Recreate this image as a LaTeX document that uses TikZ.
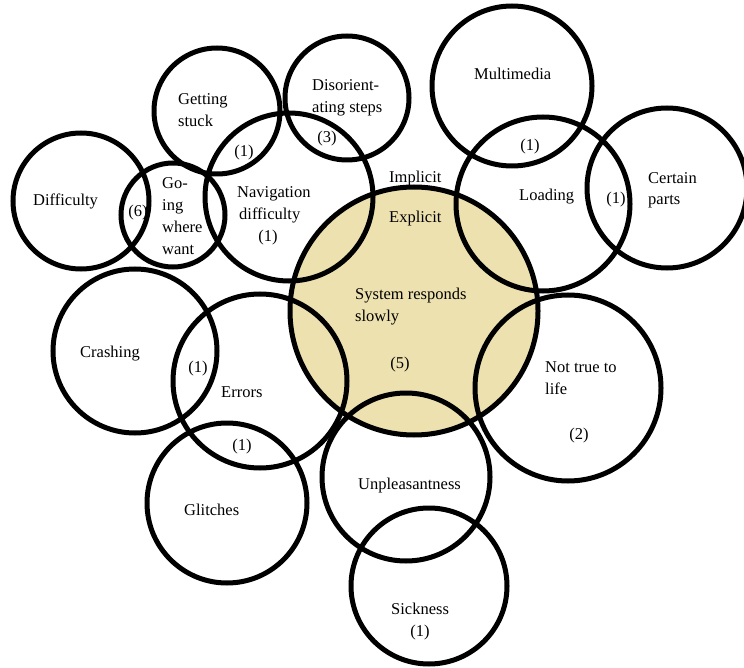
\documentclass[tikz,border=0pt]{standalone}
\usepackage{fontspec}
\setmainfont{Liberation Serif}
\begin{document}
\begin{tikzpicture}[x=1pt,y=-1pt,
  ring/.style={circle,draw=black,line width=5pt,inner sep=0pt,minimum size=#1},
  lbl/.style={anchor=base west,inner sep=0pt,font=\fontsize{16.5}{20}\selectfont},
  cnt/.style={anchor=base,inner sep=0pt,font=\fontsize{16.5}{20}\selectfont}]
\useasboundingbox (0,0) rectangle (744,668);
\definecolor{slowfill}{RGB}{237,225,175}
% central theme (filled first so other outlines sit on top)
\fill[slowfill] (414,311) circle[radius=124];
% outlines
\node[ring=248pt] (slow)  at (414,311) {};
\node[ring=126pt] (stuck) at (217,111) {};
\node[ring=124pt] (disor) at (347,98)  {};
\node[ring=160pt] (multi) at (512,86)  {};
\node[ring=174pt] (load)  at (543,204) {};
\node[ring=160pt] (parts) at (667,188) {};
\node[ring=136pt] (diff)  at (81,201)  {};
\node[ring=104pt] (going) at (173,215) {};
\node[ring=168pt] (nav)   at (289,197) {};
\node[ring=164pt] (crash) at (135,351) {};
\node[ring=174pt] (err)   at (260,381) {};
\node[ring=160pt] (glit)  at (227,503) {};
\node[ring=186pt] (ntl)   at (568,388) {};
\node[ring=168pt] (unpl)  at (406,477) {};
\node[ring=156pt] (sick)  at (429,586) {};
% labels
\node[lbl] (t1)  at (178,105) {Getting};
\node[lbl] (t2)  at (178,127) {stuck};
\node[cnt] (c1)  at (244,157) {(1)};
\node[lbl] (t3)  at (312,91)  {Disorient-};
\node[lbl] (t4)  at (312,113) {ating steps};
\node[cnt] (c2)  at (327,143) {(3)};
\node[lbl] (t5)  at (33,206)  {Difficulty};
\node[cnt] (c3)  at (138,217) {(6)};
\node[lbl] (t6)  at (162,189) {Go-};
\node[lbl] (t7)  at (162,211) {ing};
\node[lbl] (t8)  at (162,233) {where};
\node[lbl] (t9)  at (162,255) {want};
\node[lbl] (t10) at (237,198) {Navigation};
\node[lbl] (t11) at (239,220) {difficulty};
\node[cnt] (c4)  at (268,242) {(1)};
\node[lbl] (t12) at (389,183) {Implicit};
\node[lbl] (t13) at (389,223) {Explicit};
\node[lbl] (t14) at (474,80)  {Multimedia};
\node[cnt] (c5)  at (530,151) {(1)};
\node[lbl] (t15) at (519,201) {Loading};
\node[cnt] (c6)  at (616,204) {(1)};
\node[lbl] (t16) at (648,184) {Certain};
\node[lbl] (t17) at (648,205) {parts};
\node[lbl] (t18) at (355,299) {System responds};
\node[lbl] (t19) at (355,321) {slowly};
\node[cnt] (c7)  at (400,368) {(5)};
\node[lbl] (t20) at (545,372) {Not true to};
\node[lbl] (t21) at (545,394) {life};
\node[cnt] (c8)  at (579,439) {(2)};
\node[lbl] (t22) at (358,489) {Unpleasantness};
\node[lbl] (t23) at (391,614) {Sickness};
\node[cnt] (c9)  at (420,636) {(1)};
\node[lbl] (t24) at (80,357)  {Crashing};
\node[cnt] (c10) at (198,372) {(1)};
\node[lbl] (t25) at (221,397) {Errors};
\node[cnt] (c11) at (242,450) {(1)};
\node[lbl] (t26) at (184,515) {Glitches};
\end{tikzpicture}
\end{document}
